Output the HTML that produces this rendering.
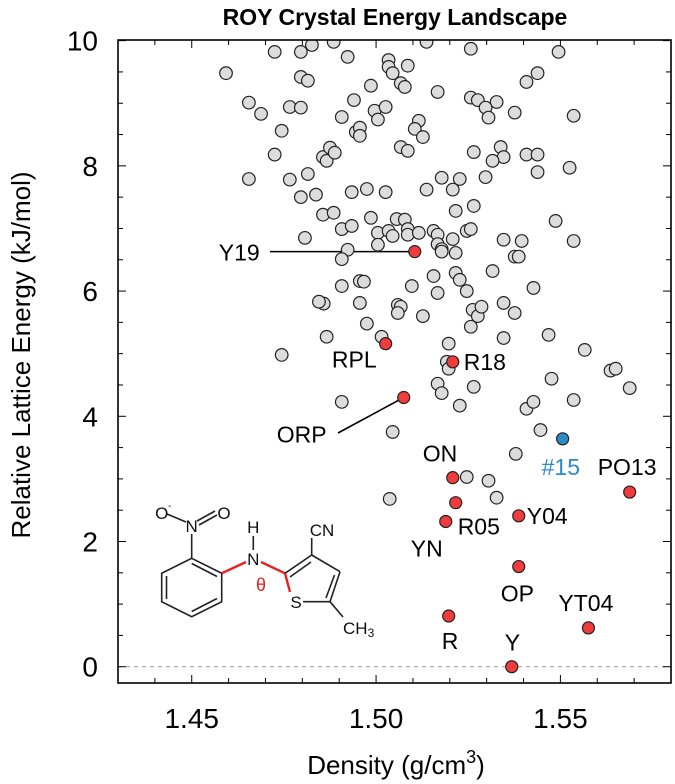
<!DOCTYPE html>
<html>
<head>
<meta charset="utf-8">
<style>
  html, body { margin:0; padding:0; background:#fff; }
  svg { display:block; font-family:"Liberation Sans", Arial, sans-serif; }
</style>
</head>
<body>
<svg id="chart" width="675" height="784" viewBox="0 0 675 784" xmlns="http://www.w3.org/2000/svg">
  <text x="395" y="25" text-anchor="middle" font-size="23" font-weight="bold">ROY Crystal Energy Landscape</text>
  <g id="plot"></g>
  <text x="396" y="774" text-anchor="middle" font-size="26">Density (g/cm<tspan dy="-11" font-size="18">3</tspan><tspan dy="11">)</tspan></text>
  <text transform="translate(30,355) rotate(-90)" text-anchor="middle" font-size="26">Relative Lattice Energy (kJ/mol)</text>

  <g stroke="#222" stroke-width="1.6" fill="none">
    <polygon points="191.7,558.3 221.7,573.3 221.7,601.7 191.7,616.7 161.7,601.7 161.7,573.3"/>
    <line x1="166.5" y1="576" x2="166.5" y2="599"/>
    <line x1="191.7" y1="611.5" x2="217" y2="598.5"/>
    <line x1="191.7" y1="563.5" x2="217" y2="576.5"/>
    <line x1="191.7" y1="558.3" x2="191.7" y2="534"/>
    <line x1="186" y1="522" x2="167" y2="514"/>
    <line x1="197" y1="521" x2="215" y2="511"/>
    <line x1="199" y1="525" x2="217" y2="515"/>
    <line x1="253.3" y1="550" x2="253.3" y2="536"/>
    <polyline stroke="#e8201e" stroke-width="2.4" points="221.7,573.3 246,562"/>
    <polyline stroke="#e8201e" stroke-width="2.4" points="261,562 285,573.3 290,592"/>
    <line x1="285" y1="573.3" x2="311.7" y2="555"/>
    <line x1="290" y1="577" x2="311" y2="562"/>
    <line x1="311.7" y1="555" x2="340" y2="571.7"/>
    <line x1="340" y1="571.7" x2="330" y2="601.7"/>
    <line x1="334.5" y1="575" x2="326" y2="598"/>
    <line x1="330" y1="601.7" x2="303" y2="601.7"/>
    <line x1="311.7" y1="555" x2="311.7" y2="538"/>
    <line x1="330" y1="601.7" x2="343" y2="617"/>
  </g>
  <g font-size="17" fill="#111">
    <text x="161.7" y="519" text-anchor="middle">O</text>
    <text x="168" y="509" font-size="10">-</text>
    <text x="191.7" y="532" text-anchor="middle">N</text>
    <text x="224" y="519" text-anchor="middle">O</text>
    <text x="253.3" y="533" text-anchor="middle">H</text>
    <text x="253.3" y="565" text-anchor="middle">N</text>
    <text x="261" y="591" text-anchor="middle" fill="#e8201e" font-size="18">θ</text>
    <text x="296" y="608" text-anchor="middle">S</text>
    <text x="322" y="536" text-anchor="middle">CN</text>
    <text x="343" y="634">CH<tspan font-size="12" dy="3">3</tspan></text>
  </g>
</svg>
<script>
// Grey (all predicted structures)
const greyDensity = [1.4725,1.4796,1.4826,1.4885,1.4923,1.4593,1.4796,1.4815,1.4655,1.4688,1.4766,1.4796,1.4907,1.4940,1.4744,1.4945,1.4725,1.4856,1.4866,1.4875,1.4888,1.4655,1.4766,1.4815,1.4796,1.4837,1.4934,1.4856,1.4885,1.4907,1.4934,1.4807,1.4923,1.4907,
1.5137,1.5257,1.5495,1.5034,1.5034,1.5045,1.5086,1.4986,1.5067,1.5078,1.5167,1.5408,1.5438,1.4996,1.5026,1.5005,1.5116,1.5105,1.5127,1.4956,1.4956,1.5257,1.5276,1.5327,1.5297,1.5305,1.5376,1.5536,1.5067,1.5086,1.5265,1.5338,1.5346,1.5316,1.5408,1.5438,1.5438,1.5525,1.4975,1.5026,1.5137,1.5178,1.5227,1.5208,1.5297,1.5216,1.5265,1.5487,1.4986,1.5005,1.5005,1.5034,1.5045,1.5056,1.5078,1.5086,1.5086,1.5116,1.5156,1.5167,1.5167,1.5178,1.5208,1.5216,1.5246,1.5257,1.5346,1.5395,1.5376,1.5387,1.5536,
1.4858,1.4845,1.4907,1.4866,1.4744,1.4907,
1.5178,1.4956,1.4967,1.5097,1.5156,1.5216,1.5227,1.5316,1.5246,1.5167,1.5427,1.4956,1.5059,1.5067,1.5059,1.5127,1.5262,1.5276,1.5286,1.5346,1.5376,1.5257,1.4975,1.5015,1.5197,1.5192,1.5197,1.5346,1.5468,1.5566,1.5167,1.5178,1.5265,1.5227,1.5476,1.5536,1.5408,1.5427,1.5045,1.5446,1.5379,1.5246,1.5305,1.5037,1.5327,
1.5636,1.5650,1.5688];
const greyEnergy = [9.82,9.82,9.93,9.98,9.74,9.48,9.42,9.36,9.01,8.83,8.94,8.93,8.78,9.05,8.56,8.54,8.18,8.14,8.08,8.29,8.21,7.79,7.78,7.87,7.50,7.54,7.58,7.22,7.25,6.99,7.04,6.85,6.66,6.51,
9.98,9.87,9.82,9.69,9.58,9.48,9.60,9.28,9.32,9.26,9.18,9.34,9.48,8.88,8.94,8.74,8.72,8.59,8.46,8.61,8.48,9.09,9.05,9.02,8.93,8.77,8.85,8.80,8.30,8.24,8.22,8.30,8.14,8.08,8.18,8.18,7.90,7.97,7.63,7.58,7.62,7.81,7.79,7.62,7.82,7.28,7.36,7.12,7.17,6.93,6.74,6.96,6.88,7.15,7.14,6.99,6.90,6.93,6.96,6.90,6.75,6.67,6.83,6.61,6.96,6.99,6.82,6.80,6.55,6.55,6.80,
5.80,5.83,6.08,5.27,4.98,4.23,
6.63,6.16,6.15,6.08,6.24,6.29,6.18,6.32,6.00,5.97,6.05,5.81,5.78,5.75,5.65,5.60,5.70,5.60,5.75,5.81,5.65,5.43,5.48,5.27,5.16,4.87,4.76,5.25,5.30,5.06,4.52,4.37,4.47,4.17,4.60,4.26,4.12,4.23,3.75,3.78,3.40,3.03,2.97,2.68,2.70,
4.73,4.76,4.45];
// Known polymorphs (red)
const knownNames = ["Y19","RPL","R18","ORP","ON","R05","YN","Y04","OP","R","Y","YT04","PO13"];
const knownDensity = [1.5105,1.5026,1.5208,1.5075,1.5208,1.5216,1.5189,1.5387,1.5387,1.5197,1.5368,1.5576,1.5688];
const knownEnergy = [6.63,5.16,4.87,4.30,3.02,2.62,2.32,2.41,1.60,0.81,0.00,0.62,2.79];
// Highlighted structure (blue)
const hlName = ["#15"];
const hlDensity = [1.5506];
const hlEnergy = [3.64];
// Ticks
const xTickLabels = ["1.45","1.50","1.55"];
const yTickLabels = ["0","2","4","6","8","10"];

const L=118, R=671, T=40, B=683;
const xMin=1.43, xMax=1.58, yMin=-0.26, yMax=10.01;
const X = v => L + (v - xMin) / (xMax - xMin) * (R - L);
const Y = v => B - (v - yMin) / (yMax - yMin) * (B - T);
const NS = "http://www.w3.org/2000/svg";
const plot = document.getElementById('plot');
function mk(tag, attrs, parent) {
  const e = document.createElementNS(NS, tag);
  for (const k in attrs) e.setAttribute(k, attrs[k]);
  (parent || plot).appendChild(e);
  return e;
}
const defs = mk('defs', {});
const cp = mk('clipPath', {id:'clip'}, defs);
mk('rect', {x:L, y:T, width:R-L, height:B-T}, cp);

const zl = mk('line', {x1:L, x2:R, y1:Y(0), y2:Y(0), stroke:'#999', 'stroke-width':1, 'stroke-dasharray':'4,4'});



for (let i = 0; i <= 15; i++) {
  const v = 1.43 + i * 0.01;
  const major = (i % 5 === 2);
  const len = major ? 8 : 5;
  const t1 = mk('line', {x1:X(v), x2:X(v), y1:B, y2:B-len, stroke:'#000', 'stroke-width':1});
  
  
  const t2 = mk('line', {x1:X(v), x2:X(v), y1:T, y2:T+len, stroke:'#000', 'stroke-width':1});
  
  
}
for (let i = 0; i <= 20; i++) {
  const v = i * 0.5;
  const len = (i % 4 === 0) ? 8 : 5;
  const t1 = mk('line', {x1:L, x2:L+len, y1:Y(v), y2:Y(v), stroke:'#000', 'stroke-width':1});
  
  
  const t2 = mk('line', {x1:R, x2:R-len, y1:Y(v), y2:Y(v), stroke:'#000', 'stroke-width':1});
  
  
}
xTickLabels.forEach(s => {
  const t = mk('text', {x:X(parseFloat(s)), y:B+45, 'text-anchor':'middle', 'font-size':28});
  t.textContent = s;
  
  
});
yTickLabels.forEach(s => {
  const t = mk('text', {x:L-20, y:Y(parseFloat(s))+10, 'text-anchor':'end', 'font-size':28});
  t.textContent = s;
  
  
});

const l1 = mk('line', {x1:270, y1:Y(knownEnergy[0]), x2:X(knownDensity[0]), y2:Y(knownEnergy[0]), stroke:'#000', 'stroke-width':1.6});


const l2 = mk('line', {x1:338, y1:433, x2:X(knownDensity[3]), y2:Y(knownEnergy[3]), stroke:'#000', 'stroke-width':1.6});



const pts = mk('g', {'clip-path':'url(#clip)'});


greyDensity.forEach((d, i) => {
  const c = mk('circle', {cx:X(d), cy:Y(greyEnergy[i]), r:6.3, fill:'#dcdcdc', stroke:'#222', 'stroke-width':1.2}, pts);
  
  
});
hlDensity.forEach((d, i) => {
  const c = mk('circle', {cx:X(d), cy:Y(hlEnergy[i]), r:6, fill:'#2b8cc4', stroke:'#222', 'stroke-width':1.2}, pts);
  
  
});
knownDensity.forEach((d, i) => {
  const c = mk('circle', {cx:X(d), cy:Y(knownEnergy[i]), r:6, fill:'#f03c3c', stroke:'#222', 'stroke-width':1.2}, pts);
  
  
});

const labelOff = {
  "Y19":[-196,9,'start'], "RPL":[-9,24,'end'], "R18":[11,8,'start'], "ORP":[-127,45,'start'],
  "ON":[-30,-16,'start'], "R05":[2,32,'start'], "YN":[-35,35,'start'], "Y04":[8,8,'start'],
  "OP":[-18,35,'start'], "R":[-7,33,'start'], "Y":[-7,-16,'start'], "YT04":[-30,-17,'start'], "PO13":[-32,-17,'start']
};
knownNames.forEach((n, i) => {
  const o = labelOff[n];
  const t = mk('text', {x:X(knownDensity[i]) + o[0], y:Y(knownEnergy[i]) + o[1], 'text-anchor':o[2], 'font-size':23});
  t.textContent = n;
  
  
});
hlName.forEach((n, i) => {
  const t = mk('text', {x:X(hlDensity[i]) - 21, y:Y(hlEnergy[i]) + 36, 'font-size':23, fill:'#2b8cc4'});
  t.textContent = n;
  
  
});

const fr = mk('rect', {x:L, y:T, width:R-L, height:B-T, fill:'none', stroke:'#000', 'stroke-width':1.6});


</script>
</body>
</html>
